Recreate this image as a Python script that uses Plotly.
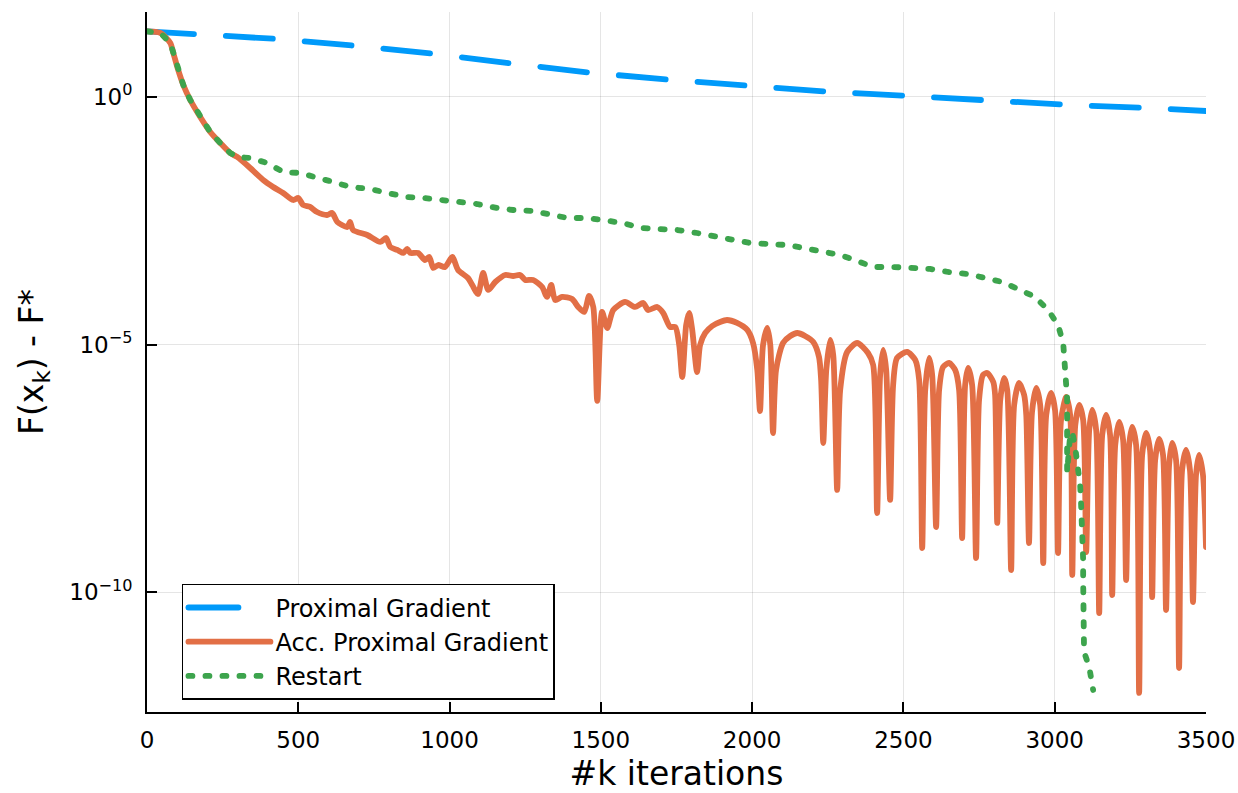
import plotly.graph_objects as go

# ---------------- data ----------------
# iteration counts k and log10(F(x_k) - F*)

# Proximal Gradient
pg_k = [0, 169, 430, 695, 952, 1217, 1475, 1736, 2000, 2261, 2522, 2787, 3048, 3312, 3500]
pg_log10gap = [1.32, 1.267, 1.167, 1.025, 0.864, 0.662, 0.480, 0.339, 0.218, 0.097,
               0.016, -0.085, -0.165, -0.226, -0.287]

# Accelerated Proximal Gradient
apg_k = [
    0, 44, 77, 87, 103, 120, 143, 176, 209, 242,
    275, 298, 341, 384, 417, 450, 483, 500, 516, 539,
    562, 595, 612, 629, 662, 671, 681, 728, 771, 790,
    804, 827, 847, 860, 870, 896, 919, 933, 946, 962,
    985, 1009, 1028, 1061, 1075, 1094, 1111, 1128, 1151, 1184,
    1210, 1233, 1250, 1276, 1306, 1322, 1336, 1349, 1372, 1405,
    1425, 1445, 1461, 1475, 1488, 1504, 1521, 1541, 1580, 1613,
    1640, 1656, 1686, 1706, 1729, 1746, 1759, 1769, 1782, 1792,
    1802, 1818, 1828, 1845, 1868, 1894, 1917, 1950, 1984, 2003,
    2017, 2026, 2036, 2050, 2060, 2069, 2079, 2102, 2126, 2149,
    2175, 2202, 2221, 2228, 2235, 2245, 2258, 2268, 2281, 2291,
    2314, 2347, 2383, 2400, 2413, 2423, 2433, 2443, 2456, 2466,
    2479, 2512, 2539, 2552, 2562, 2572, 2585, 2595, 2608, 2618,
    2631, 2651, 2671, 2684, 2694, 2704, 2714, 2727, 2740, 2750,
    2763, 2777, 2797, 2803, 2810, 2820, 2833, 2843, 2856, 2866,
    2882, 2899, 2906, 2915, 2925, 2939, 2952, 2962, 2972, 2988,
    3001, 3011, 3021, 3038, 3051, 3058, 3068, 3081, 3094, 3104,
    3114, 3124, 3137, 3147, 3157, 3170, 3183, 3190, 3200, 3213,
    3226, 3236, 3246, 3256, 3269, 3279, 3289, 3302, 3315, 3322,
    3332, 3345, 3358, 3368, 3378, 3388, 3401, 3411, 3421, 3434,
    3447, 3457, 3467, 3477, 3490, 3500,
]
apg_log10gap = [
    1.32, 1.288, 1.086, 0.884, 0.541, 0.238, -0.065, -0.408, -0.710, -0.932,
    -1.134, -1.215, -1.437, -1.679, -1.820, -1.941, -2.083, -2.042, -2.184, -2.224,
    -2.325, -2.386, -2.345, -2.527, -2.628, -2.527, -2.688, -2.789, -2.930, -2.850,
    -3.031, -3.092, -3.152, -3.072, -3.152, -3.152, -3.294, -3.233, -3.455, -3.395,
    -3.435, -3.233, -3.495, -3.657, -3.798, -3.980, -3.556, -3.899, -3.738, -3.596,
    -3.617, -3.596, -3.697, -3.697, -3.839, -4.040, -3.798, -4.101, -4.040, -4.081,
    -4.242, -4.343, -4.020, -4.242, -6.139, -4.343, -4.666, -4.303, -4.141, -4.242,
    -4.161, -4.303, -4.242, -4.363, -4.646, -4.646, -5.009, -5.655, -4.605, -4.363,
    -4.706, -5.554, -5.009, -4.767, -4.626, -4.545, -4.505, -4.565, -4.706, -4.969,
    -5.514, -6.341, -5.009, -4.666, -5.009, -6.785, -5.514, -4.969, -4.827, -4.767,
    -4.827, -4.949, -5.251, -5.716, -6.987, -5.514, -4.908, -5.211, -7.935, -5.917,
    -5.150, -4.969, -5.171, -5.413, -8.400, -5.615, -5.110, -5.514, -8.137, -5.816,
    -5.271, -5.150, -5.312, -5.716, -9.106, -5.917, -5.271, -5.615, -8.682, -5.917,
    -5.453, -5.372, -5.514, -5.917, -8.904, -5.816, -5.473, -5.816, -9.308, -6.119,
    -5.615, -5.574, -5.756, -6.018, -8.601, -6.119, -5.675, -5.917, -9.550, -6.220,
    -5.776, -6.018, -6.422, -9.005, -6.361, -5.877, -6.220, -9.409, -6.422, -5.978,
    -6.321, -9.207, -6.523, -6.059, -6.422, -9.651, -6.624, -6.220, -6.523, -9.187,
    -6.725, -6.321, -6.725, -10.418, -6.826, -6.422, -6.826, -10.055, -7.027, -6.563,
    -6.927, -9.752, -7.027, -6.664, -7.027, -12.032, -7.229, -6.785, -7.128, -10.095,
    -7.330, -6.906, -7.229, -10.357, -7.431, -6.987, -7.330, -11.528, -7.532, -7.128,
    -7.532, -10.196, -7.633, -7.229, -7.633, -9.086,
]

# Restart
rs_k = [
    0, 44, 77, 87, 103, 120, 143, 176, 209, 242,
    275, 298, 341, 397, 450, 506, 562, 615, 672, 738,
    794, 860, 913, 969, 1035, 1091, 1157, 1210, 1276, 1332,
    1389, 1455, 1508, 1574, 1630, 1696, 1752, 1818, 1871, 1934,
    1993, 2050, 2116, 2169, 2235, 2291, 2347, 2400, 2466, 2522,
    2588, 2648, 2711, 2770, 2826, 2879, 2935, 2978, 3011, 3028,
    3034, 3038, 3041, 3041, 3041, 3041, 3041, 3050, 3058, 3068,
    3077, 3084, 3087, 3091, 3091, 3094, 3094, 3094, 3094, 3094,
    3097, 3114, 3127,
]
rs_log10gap = [
    1.32, 1.288, 1.086, 0.884, 0.541, 0.238, -0.065, -0.408, -0.710, -0.932,
    -1.134, -1.215, -1.235, -1.336, -1.518, -1.538, -1.619, -1.719, -1.820, -1.861,
    -1.941, -2.022, -2.042, -2.083, -2.143, -2.164, -2.244, -2.285, -2.305, -2.386,
    -2.446, -2.446, -2.486, -2.547, -2.648, -2.668, -2.688, -2.749, -2.809, -2.910,
    -2.951, -2.971, -2.991, -3.051, -3.112, -3.193, -3.314, -3.435, -3.435, -3.455,
    -3.475, -3.536, -3.576, -3.657, -3.738, -3.879, -4.040, -4.303, -4.605, -4.969,
    -5.352, -5.716, -6.079, -6.462, -6.785, -7.189, -7.572, -6.900, -6.765, -7.088,
    -7.471, -7.835, -8.198, -8.601, -8.944, -9.348, -9.752, -10.095, -10.458, -10.822,
    -11.205, -11.508, -11.972,
]

series_names = ["Proximal Gradient", "Acc. Proximal Gradient", "Restart"]
x_ticks = [0, 500, 1000, 1500, 2000, 2500, 3000, 3500]
y_tick_vals = [1, 1e-5, 1e-10]
y_tick_text = ["10<sup>0</sup>", "10<sup>\u22125</sup>", "10<sup>\u221210</sup>"]

assert len(apg_k) == len(apg_log10gap)
assert len(rs_k) == len(rs_log10gap)
assert len(pg_k) == len(pg_log10gap)

# ---------------- figure ----------------
BLUE, ORANGE, GREEN = "#009AFA", "#E26F46", "#3DA44D"
LW = 5.8

fig = go.Figure()
fig.add_trace(go.Scatter(
    x=pg_k, y=[10 ** v for v in pg_log10gap], mode="lines", name=series_names[0],
    line=dict(color=BLUE, width=LW, dash="47px,32px")))
fig.add_trace(go.Scatter(
    x=apg_k, y=[10 ** v for v in apg_log10gap], mode="lines", name=series_names[1],
    line=dict(color=ORANGE, width=LW, shape="spline", smoothing=0.7)))
fig.add_trace(go.Scatter(
    x=rs_k, y=[10 ** v for v in rs_log10gap], mode="lines", name=series_names[2],
    line=dict(color=GREEN, width=LW, dash="4px,13px")))

fig.update_layout(
    width=1238, height=793,
    margin=dict(l=147, r=32, t=12, b=81),
    paper_bgcolor="white", plot_bgcolor="white",
    font=dict(family="DejaVu Sans", size=23, color="black"),
    showlegend=True,
    legend=dict(
        x=0.033, y=0.183, xanchor="left", yanchor="top",
        bordercolor="black", borderwidth=1.5, bgcolor="white",
        font=dict(size=24, color="black"), itemwidth=82, tracegroupgap=0,
    ),
)
fig.update_xaxes(
    range=[0, 3500], tickvals=x_ticks, ticktext=[str(t) for t in x_ticks],
    ticks="inside", ticklen=10, tickwidth=1.5, tickcolor="black",
    showline=True, linecolor="black", linewidth=1.8, mirror=False,
    showgrid=True, gridcolor="rgba(0,0,0,0.1)", gridwidth=1, zeroline=False,
    ticklabelstandoff=6, automargin=False,
    title=dict(text="#k iterations", font=dict(size=33), standoff=10),
)
fig.update_yaxes(
    type="log", range=[-12.416, 1.711],
    tickvals=y_tick_vals, ticktext=y_tick_text,
    ticks="inside", ticklen=10, tickwidth=1.5, tickcolor="black",
    showline=True, linecolor="black", linewidth=1.8, mirror=False,
    showgrid=True, gridcolor="rgba(0,0,0,0.1)", gridwidth=1, zeroline=False,
    ticklabelstandoff=8, automargin=False,
    title=dict(text="F(x<sub>k</sub>) - F*", font=dict(size=33), standoff=16),
)

post = """
document.body.style.margin='0';
document.documentElement.style.margin='0';
var s=document.createElement('style');
s.innerHTML='body{margin:0!important}'
 + '.modebar-container{display:none!important}'
 + '.scatterlayer .js-line{stroke-linecap:round;stroke-linejoin:round}'
 + '.legend .js-line{stroke-linecap:round}'
 + '.legend .traces:nth-of-type(1) .js-line{stroke-dasharray:50px,200px!important}';
document.head.appendChild(s);
"""
fig.write_html("out.html", post_script=post, config={"displayModeBar": False})
